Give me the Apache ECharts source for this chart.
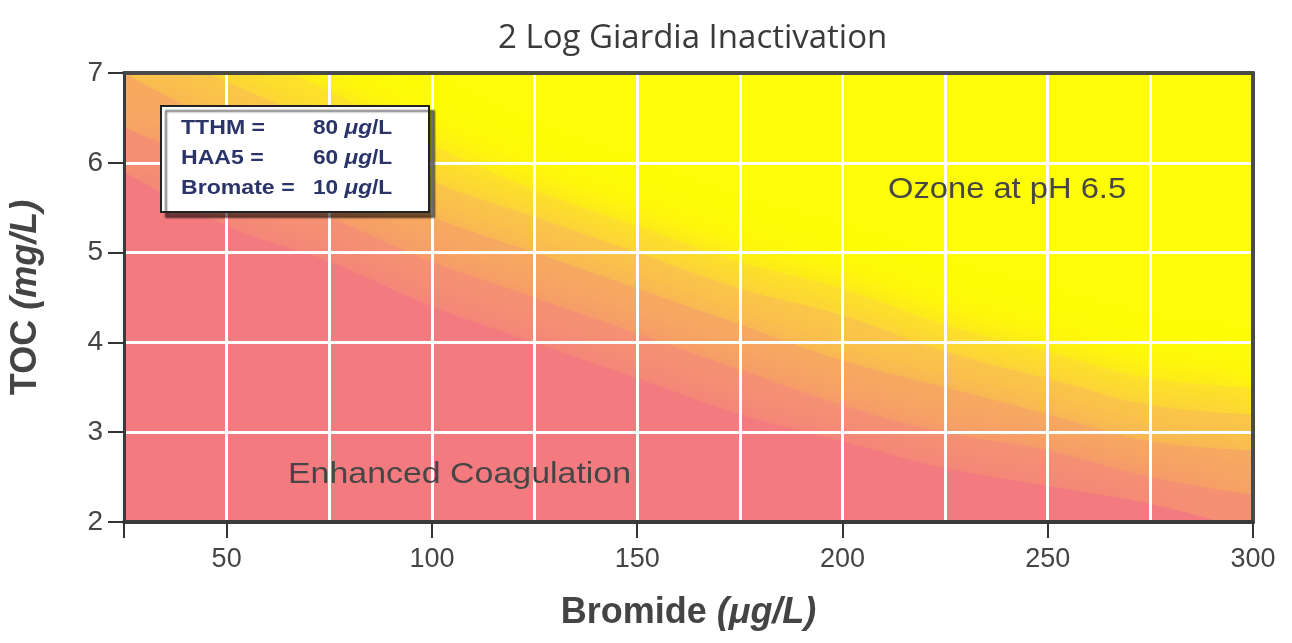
<!DOCTYPE html>
<html>
<head>
<meta charset="utf-8">
<title>2 Log Giardia Inactivation</title>
<script src="https://cdn.jsdelivr.net/npm/echarts@6/dist/echarts.min.js"></script>
<style>
    html, body { margin: 0; padding: 0; background: #ffffff; }
    #chart { width: 1292px; height: 643px; }
</style>
</head>
<body>
<div id="chart"></div>
<script>
const bromide = [25, 50, 75, 100, 125, 150, 175, 200, 225, 250, 275, 300];
// TOC (mg/L) of each colour edge, from pink (enhanced coagulation) up to yellow (ozone)
const pinkEdge   = [5.9, 5.3, 4.9, 4.4, 4.0, 3.6, 3.2, 2.9, 2.6, 2.4, 2.2, 1.9];
const salmonEdge = [6.4, 5.9, 5.4, 4.9, 4.5, 4.1, 3.7, 3.3, 3.0, 2.8, 2.5, 2.3];
const orangeEdge = [7.0, 6.4, 5.9, 5.4, 5.0, 4.6, 4.2, 3.8, 3.5, 3.2, 2.9, 2.8];
const amberEdge  = [7.4, 6.9, 6.4, 5.8, 5.4, 5.0, 4.6, 4.3, 3.9, 3.6, 3.3, 3.2];
const lemonEdge  = [7.8, 7.3, 6.8, 6.2, 5.7, 5.3, 4.9, 4.6, 4.2, 3.9, 3.6, 3.5];

const xTicks = [25, 50, 100, 150, 200, 250, 300];
const xLabels = [50, 100, 150, 200, 250, 300];

const limits = [
    ['TTHM =', '80'],
    ['HAA5 =', '60'],
    ['Bromate =', '10']
];

const colYellow = '#fefc06';
const sansFont = '"Liberation Sans", Arial, sans-serif';

const toPairs = ys => bromide.map((x, i) => [x, ys[i]]);

const band = (name, ys, color) => ({
    name: name,
    type: 'line',
    xAxisIndex: 1,
    yAxisIndex: 0,
    data: toPairs(ys),
    smooth: 0.4,
    showSymbol: false,
    silent: true,
    clip: true,
    z: 1,
    lineStyle: { width: 0 },
    areaStyle: {
        color: color,
        opacity: 1,
        shadowBlur: 50,
        shadowColor: color
    }
});

const chart = echarts.init(document.getElementById('chart'));

// text inside the limits box
const legendRows = [];
limits.forEach((row, i) => {
    legendRows.push({
        type: 'text',
        x: 20,
        y: 22 + i * 30,
        z: 21,
        scaleX: 1.1,
        style: {
            text: row[0],
            font: 'bold 21px ' + sansFont,
            fill: '#2b3468',
            verticalAlign: 'middle'
        }
    });
    legendRows.push({
        type: 'text',
        x: 152,
        y: 22 + i * 30,
        z: 21,
        scaleX: 1.08,
        style: {
            text: '{n|' + row[1] + ' }{i|μg}{n|/L}',
            verticalAlign: 'middle',
            rich: {
                n: { font: 'bold 21px ' + sansFont, fill: '#2b3468' },
                i: { font: 'italic bold 21px ' + sansFont, fill: '#2b3468' }
            }
        }
    });
});

const option = {
    backgroundColor: '#ffffff',
    animation: false,
    title: {
        text: '2 Log Giardia Inactivation',
        left: 493,
        top: 17,
        textStyle: {
            fontFamily: '"Open Sans", Lato, sans-serif',
            fontWeight: 'normal',
            fontSize: 33,
            color: '#3a3a3a'
        }
    },
    grid: {
        left: 124,
        right: 39,
        top: 73,
        bottom: 121,
        show: true,
        backgroundColor: colYellow,
        borderWidth: 0
    },
    xAxis: [
        {
            // white grid lines every 25 ug/L, plus the frame on top
            type: 'value',
            position: 'top',
            min: 25,
            max: 300,
            interval: 25,
            z: 5,
            axisLine: { show: true, lineStyle: { color: '#4a4a4a', width: 4 } },
            axisTick: { show: false },
            axisLabel: { show: false },
            splitLine: { show: true, lineStyle: { color: '#ffffff', width: 3 } }
        },
        {
            type: 'value',
            position: 'bottom',
            min: 25,
            max: 300,
            interval: 25,
            z: 6,
            name: '{b|Bromide }{i|(μg/L)}',
            nameLocation: 'middle',
            nameGap: 73,
            nameTextStyle: {
                rich: {
                    b: { fontFamily: sansFont, fontWeight: 'bold', fontSize: 36, color: '#444444' },
                    i: { fontFamily: sansFont, fontWeight: 'bold', fontStyle: 'italic', fontSize: 36, color: '#444444' }
                }
            },
            axisLine: { show: true, lineStyle: { color: '#3a3a3a', width: 4 } },
            axisTick: {
                show: true,
                customValues: xTicks,
                length: 16,
                lineStyle: { color: '#333333', width: 2 }
            },
            axisLabel: {
                customValues: xLabels,
                margin: 24,
                fontFamily: sansFont,
                fontSize: 27,
                color: '#444444'
            },
            splitLine: { show: false }
        }
    ],
    yAxis: [
        {
            type: 'value',
            position: 'left',
            min: 2,
            max: 7,
            interval: 1,
            z: 5,
            name: '{b|TOC }{i|(mg/L)}',
            nameLocation: 'middle',
            nameGap: 80,
            nameTextStyle: {
                rich: {
                    b: { fontFamily: sansFont, fontWeight: 'bold', fontSize: 36, color: '#444444' },
                    i: { fontFamily: sansFont, fontWeight: 'bold', fontStyle: 'italic', fontSize: 36, color: '#444444' }
                }
            },
            axisLine: { show: true, lineStyle: { color: '#3a3a3a', width: 3 } },
            axisTick: { show: true, length: 16, lineStyle: { color: '#333333', width: 2 } },
            axisLabel: {
                margin: 21,
                fontFamily: sansFont,
                fontSize: 28,
                color: '#444444'
            },
            splitLine: { show: true, lineStyle: { color: '#ffffff', width: 3 } }
        },
        {
            // right side of the frame
            type: 'value',
            position: 'right',
            min: 2,
            max: 7,
            interval: 1,
            z: 5,
            axisLine: { show: true, lineStyle: { color: '#4a4a4a', width: 4 } },
            axisTick: { show: false },
            axisLabel: { show: false },
            splitLine: { show: false }
        }
    ],
    series: [
        band('lemon', lemonEdge, '#fde526'),
        band('amber', amberEdge, '#fac847'),
        band('orange', orangeEdge, '#f7aa60'),
        band('salmon', salmonEdge, '#f59272'),
        band('pink', pinkEdge, '#f37b80')
    ],
    graphic: [
        {
            type: 'group',
            x: 161,
            y: 106,
            z: 20,
            children: [
                {
                    type: 'rect',
                    z: 20,
                    shape: { x: 0, y: 0, width: 268, height: 106 },
                    style: {
                        fill: '#ffffff',
                        stroke: '#222222',
                        lineWidth: 2,
                        shadowColor: 'rgba(0,0,0,0.55)',
                        shadowOffsetX: 5,
                        shadowOffsetY: 5,
                        shadowBlur: 2
                    }
                }
            ].concat(legendRows)
        },
        {
            type: 'text',
            x: 288,
            y: 475,
            z: 20,
            scaleX: 1.13,
            style: {
                text: 'Enhanced Coagulation',
                font: '30px ' + sansFont,
                fill: '#464646',
                verticalAlign: 'middle'
            }
        },
        {
            type: 'text',
            x: 888,
            y: 190,
            z: 20,
            scaleX: 1.09,
            style: {
                text: 'Ozone at pH 6.5',
                font: '30px ' + sansFont,
                fill: '#464646',
                verticalAlign: 'middle'
            }
        }
    ]
};

chart.setOption(option);
window.addEventListener('resize', chart.resize);
</script>
</body>
</html>
